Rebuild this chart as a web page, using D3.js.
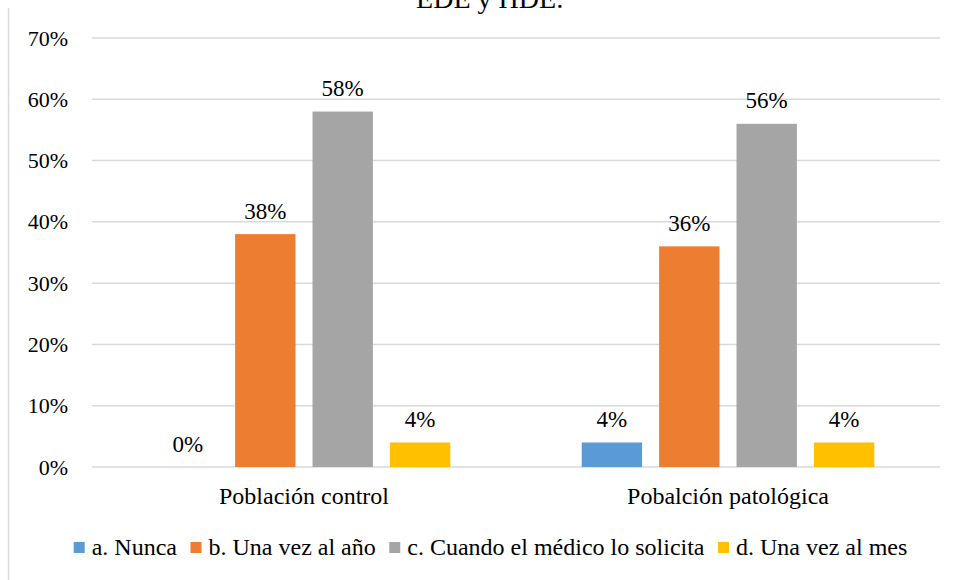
<!DOCTYPE html>
<html>
<head>
<meta charset="utf-8">
<script src="https://cdn.jsdelivr.net/npm/d3@7"></script>
<style>
  body { margin: 0; background: #fff; }
</style>
</head>
<body>
<div id="chart"></div>
<script>
// data
const categories = ['Población control', 'Pobalción patológica'];
const seriesNames = ['a. Nunca', 'b. Una vez al año', 'c. Cuando el médico lo solicita', 'd. Una vez al mes'];
const seriesColors = ['#5b9bd5', '#ed7d31', '#a5a5a5', '#ffc000'];
const nunca = [0, 4];
const unaVezAno = [38, 36];
const cuandoMedico = [58, 56];
const unaVezMes = [4, 4];
const yTicks = [0, 10, 20, 30, 40, 50, 60, 70];
const titleText = 'EDE y HDE:';

const seriesValues = [nunca, unaVezAno, cuandoMedico, unaVezMes];

const FONT = 'Liberation Serif';
const width = 957, height = 580;
const margin = {top: 38, right: 17, bottom: 113, left: 92};
const innerW = width - margin.left - margin.right;
const innerH = height - margin.top - margin.bottom;

const svg = d3.select('#chart').append('svg')
    .attr('width', width)
    .attr('height', height)
    .attr('font-family', FONT);

// chart frame (only the left edge shows)
svg.append('line')
    .attr('x1', 8.5).attr('x2', 8.5)
    .attr('y1', 8).attr('y2', height)
    .style('stroke', '#d9d9d9')
    .style('stroke-width', 1.5);

// title, clipped by the top edge
svg.append('text')
    .attr('x', 490)
    .attr('y', 8)
    .attr('text-anchor', 'middle')
    .attr('font-family', FONT)
    .attr('font-size', 28)
    .text(titleText);

const g = svg.append('g')
    .attr('transform', 'translate(' + margin.left + ',' + margin.top + ')');

const x0 = d3.scaleBand().domain(categories).range([0, innerW]);
const x1 = d3.scaleBand().domain(d3.range(seriesNames.length))
    .range([x0.bandwidth() * 0.155, x0.bandwidth() * 0.845])
    .paddingInner(0.22);
const y = d3.scaleLinear().domain([0, 70]).range([innerH, 0]);

// gridlines
g.selectAll('.grid')
    .data(yTicks)
    .enter()
    .append('line')
    .attr('class', 'grid')
    .attr('x1', 0).attr('x2', innerW)
    .attr('y1', d => y(d)).attr('y2', d => y(d))
    .style('stroke', '#d9d9d9')
    .style('stroke-width', 1.5);

// y axis labels
const yAxis = d3.axisLeft(y)
    .tickValues(yTicks)
    .tickFormat(d => d + '%')
    .tickSize(0)
    .tickPadding(24);
const ya = g.append('g').call(yAxis)
    .attr('font-family', FONT)
    .attr('font-size', 22);
ya.select('.domain').remove();
ya.selectAll('text')
    .attr('fill', '#000');

// x axis labels
const xAxis = d3.axisBottom(x0).tickSize(0).tickPadding(20);
const xa = g.append('g').attr('transform', 'translate(0,' + innerH + ')').call(xAxis)
    .attr('font-family', FONT)
    .attr('font-size', 24);
xa.select('.domain').remove();
xa.selectAll('text')
    .attr('fill', '#000');

// bars
const groups = g.selectAll('.cat')
    .data(categories)
    .enter()
    .append('g')
    .attr('class', 'cat')
    .attr('transform', d => 'translate(' + x0(d) + ',0)');

groups.each(function (cat, ci) {
    const sel = d3.select(this);
    const rows = seriesValues.map((vals, si) => ({si: si, v: vals[ci]}));
    sel.selectAll('rect')
        .data(rows)
        .enter()
        .append('rect')
        .attr('x', d => x1(d.si))
        .attr('width', x1.bandwidth())
        .attr('y', d => y(d.v))
        .attr('height', d => innerH - y(d.v))
        .attr('fill', d => seriesColors[d.si]);
    sel.selectAll('.lbl')
        .data(rows)
        .enter()
        .append('text')
        .attr('class', 'lbl')
        .attr('text-anchor', 'middle')
        .attr('x', d => x1(d.si) + x1.bandwidth() / 2)
        .attr('y', d => y(d.v) - 15.5)
        .attr('font-size', 23)
        .text(d => d.v + '%');
});

// legend
const legend = svg.append('g');
let lx = 0;
seriesNames.forEach((name, i) => {
    const item = legend.append('g').attr('transform', 'translate(' + lx + ',0)');
    item.append('rect')
        .attr('x', 0).attr('y', -13)
        .attr('width', 11).attr('height', 11)
        .attr('fill', seriesColors[i]);
    const t = item.append('text')
        .attr('x', 18).attr('y', 0)
        .attr('font-size', 24)
        .text(name);
    lx += 18 + t.node().getComputedTextLength() + 13.5;
});
const legendW = lx - 13.5;
legend.attr('transform', 'translate(' + (490.5 - legendW / 2) + ',555)');
</script>
</body>
</html>
